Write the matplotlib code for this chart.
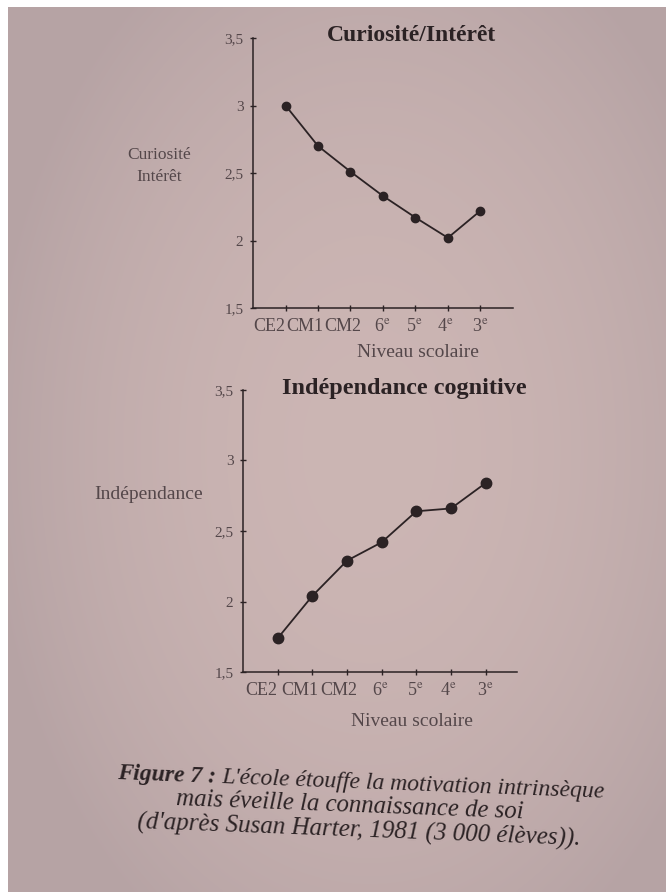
import matplotlib.pyplot as plt
import matplotlib.transforms as mtransforms
import numpy as np

plt.rcParams['font.family'] = ['Liberation Serif', 'DejaVu Serif']
plt.rcParams['mathtext.fontset'] = 'stix'

# données
niveaux = ['CE2', 'CM1', 'CM2', r'6$^{\mathrm{e}}$', r'5$^{\mathrm{e}}$',
           r'4$^{\mathrm{e}}$', r'3$^{\mathrm{e}}$']
curiosite = [3.00, 2.70, 2.51, 2.33, 2.17, 2.02, 2.22]
independance = [1.74, 2.04, 2.29, 2.42, 2.64, 2.66, 2.84]
y_ticks = [1.5, 2, 2.5, 3, 3.5]
y_labels = ['1,5', '2', '2,5', '3', '3,5']

encre = '#2b2224'
gris = '#54474a'

fig = plt.figure(figsize=(6.66, 8.92), dpi=100, facecolor='white')

# fond : papier photographié (vignettage léger), marge blanche en haut et à gauche
bg = fig.add_axes([8 / 666, 0, 1 - 8 / 666, 1 - 7 / 892], zorder=-10)
yy, xx = np.mgrid[0:1:300j, 0:1:240j]
d = np.sqrt(((xx - 0.55) / 0.9) ** 2 + ((yy - 0.5) / 1.0) ** 2)
w = np.clip(d / 0.65, 0, 1)[..., None] ** 2
centre = np.array([0.800, 0.712, 0.705])
bord = np.array([0.715, 0.640, 0.645])
img = centre * (1 - w) + bord * w
bg.imshow(img, extent=[0, 1, 0, 1], aspect='auto', interpolation='bilinear')
bg.axis('off')

decal = [-16, -13, -8, -1, -1, -3, 0]  # décalage des étiquettes (px)


def panneau(rect, valeurs, titre, ylabel, ylabel_pos, titre_pos, xlabel_pos, xmax, ms):
    ax = fig.add_axes(rect)
    ax.set_facecolor('none')
    x = np.arange(1, len(valeurs) + 1)
    ax.plot(x, valeurs, color=encre, lw=1.3, marker='o', ms=ms,
            markerfacecolor=encre, markeredgecolor=encre)
    ax.set_xlim(0, xmax)
    ax.set_ylim(1.5, 3.5)
    ax.spines['top'].set_visible(False)
    ax.spines['right'].set_visible(False)
    for s in ['left', 'bottom']:
        ax.spines[s].set_color(encre)
        ax.spines[s].set_linewidth(1.1)
    ax.set_yticks(y_ticks)
    ax.set_yticklabels(y_labels, fontsize=11, color=gris)
    ax.set_xticks(x)
    ax.set_xticklabels(niveaux, fontsize=13, color=gris)
    ax.tick_params(direction='inout', length=4, width=1, color=encre)
    ax.tick_params(axis='y', pad=5)
    ax.tick_params(axis='x', pad=5)
    for lab, dx in zip(ax.get_xticklabels(), decal):
        lab.set_transform(lab.get_transform() +
                          mtransforms.ScaledTranslation(dx / 100, 0, fig.dpi_scale_trans))
    ax.text(xlabel_pos[0], xlabel_pos[1], 'Niveau scolaire', transform=ax.transAxes,
            ha='center', va='center', fontsize=14, color=gris)
    ax.text(titre_pos[0], titre_pos[1], titre, transform=ax.transAxes,
            ha='center', va='center', fontsize=titre_pos[2],
            fontweight='bold', color=encre)
    ax.text(ylabel_pos[0], ylabel_pos[1], ylabel, transform=ax.transAxes,
            ha='center', va='center', fontsize=ylabel_pos[2], color=gris,
            linespacing=1.45)
    return ax


panneau([0.380, 0.6547, 0.390, 0.3027], curiosite, 'Curiosité/Intérêt',
        'Curiosité\nIntérêt', (-0.36, 0.526, 12.5), (0.61, 1.01, 17),
        (0.635, -0.165), 8.0, 6)
panneau([0.365, 0.2466, 0.411, 0.3162], independance, 'Indépendance cognitive',
        'Indépendance', (-0.345, 0.63, 14), (0.59, 1.007, 17.5),
        (0.617, -0.175), 7.9, 7.5)

# légende de la figure (légèrement inclinée comme sur la photo)
angle = -2.2
renderer = fig.canvas.get_renderer()


def ligne_centree(xc, yc, morceaux, taille):
    kw = dict(ha='left', va='baseline', color=encre, style='italic',
              fontsize=taille, rotation=angle, rotation_mode='anchor')
    # largeurs (non tournées) de chaque morceau
    larg = []
    for txt, poids in morceaux:
        t = fig.text(0, 0, txt, fontweight=poids, style='italic', fontsize=taille)
        larg.append(t.get_window_extent(renderer).width)
        t.remove()
    total = sum(larg)
    ca, sa = np.cos(np.radians(angle)), np.sin(np.radians(angle))
    x0 = xc * 666 - total / 2 * ca
    y0 = yc * 892 - total / 2 * sa
    for (txt, poids), l in zip(morceaux, larg):
        fig.text(x0 / 666, y0 / 892, txt, fontweight=poids, **kw)
        x0 += l * ca
        y0 += l * sa


ligne_centree(0.542, 0.116, [('Figure 7 : ', 'bold'),
                             ("L'école étouffe la motivation intrinsèque", 'normal')], 17)
ligne_centree(0.525, 0.090, [('mais éveille la connaissance de soi', 'normal')], 17.8)
ligne_centree(0.539, 0.062, [("(d'après Susan Harter, 1981 (3 000 élèves)).", 'normal')], 18)

fig.savefig('out.png', dpi=100)
